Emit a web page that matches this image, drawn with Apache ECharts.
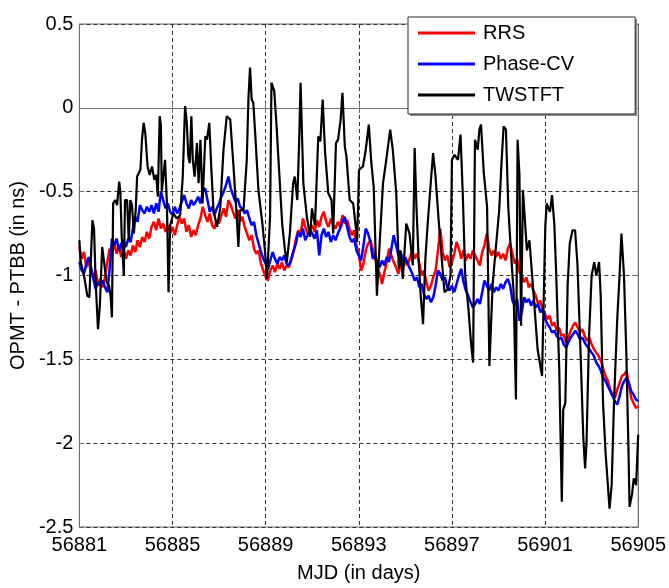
<!DOCTYPE html>
<html>
<head>
<meta charset="utf-8">
<script src="https://cdn.jsdelivr.net/npm/echarts@6/dist/echarts.min.js"></script>
<style>
html,body{margin:0;padding:0;background:#fff;}
#chart{width:669px;height:588px;}
</style>
</head>
<body>
<div id="chart"></div>
<script>
// ---- data ----
const mjdStart = 56881;
const mjdEnd = 56905;
const xTickStep = 4;
const yMin = -2.5, yMax = 0.5, yTickStep = 0.5;
const seriesNames = ['RRS', 'Phase-CV', 'TWSTFT'];
const sampleStepDays = 0.1; // RRS and Phase-CV are read every 0.1 day

const rrsOffset = [
  -0.83,-0.90,-0.86,-0.95,-0.91,-0.98,-1.01,-0.97,-1.06,-1.02,
  -1.07,-1.01,-0.92,-0.84,-0.88,-0.80,-0.87,-0.83,-0.89,-0.85,
  -0.90,-0.85,-0.88,-0.82,-0.86,-0.79,-0.83,-0.77,-0.80,-0.74,
  -0.78,-0.71,-0.68,-0.73,-0.66,-0.72,-0.69,-0.74,-0.70,-0.75,
  -0.71,-0.76,-0.70,-0.65,-0.69,-0.66,-0.74,-0.70,-0.77,-0.73,
  -0.76,-0.70,-0.66,-0.59,-0.64,-0.68,-0.63,-0.70,-0.72,-0.67,
  -0.69,-0.64,-0.60,-0.65,-0.55,-0.58,-0.62,-0.66,-0.61,-0.68,
  -0.65,-0.71,-0.75,-0.79,-0.76,-0.84,-0.87,-0.85,-0.93,-0.97,
  -1.01,-1.03,-0.97,-0.94,-0.98,-0.93,-0.96,-0.92,-0.97,-0.94,
  -0.95,-0.91,-0.86,-0.78,-0.73,-0.76,-0.66,-0.71,-0.75,-0.72,
  -0.70,-0.74,-0.67,-0.71,-0.65,-0.62,-0.68,-0.71,-0.66,-0.70,
  -0.72,-0.68,-0.71,-0.64,-0.69,-0.67,-0.72,-0.76,-0.73,-0.82,
  -0.87,-0.97,-0.93,-0.85,-0.81,-0.79,-0.84,-0.90,-0.95,-0.99,
  -1.05,-0.98,-0.92,-0.84,-0.88,-0.92,-0.95,-0.99,-0.93,-0.96,
  -0.91,-0.94,-0.89,-0.85,-0.90,-0.87,-0.93,-1.00,-0.97,-1.04,
  -1.09,-1.06,-1.01,-0.97,-0.85,-0.72,-0.86,-0.91,-0.88,-0.95,
  -0.92,-0.87,-0.80,-0.84,-0.90,-0.85,-0.91,-0.87,-0.90,-0.85,
  -0.88,-0.91,-0.94,-0.86,-0.82,-0.75,-0.84,-0.88,-0.85,-0.89,
  -0.86,-0.90,-0.87,-0.91,-0.84,-0.81,-0.87,-0.93,-0.90,-0.98,
  -1.00,-1.04,-1.01,-1.07,-1.05,-1.09,-1.12,-1.17,-1.15,-1.21,
  -1.23,-1.26,-1.24,-1.30,-1.28,-1.33,-1.31,-1.36,-1.35,-1.40,
  -1.37,-1.33,-1.30,-1.28,-1.31,-1.34,-1.32,-1.36,-1.39,-1.37,
  -1.41,-1.44,-1.46,-1.48,-1.51,-1.56,-1.60,-1.63,-1.68,-1.71,
  -1.73,-1.68,-1.64,-1.60,-1.59,-1.57,-1.65,-1.73,-1.76,-1.79,
  -1.78
];

const phaseCvOffset = [
  -0.92,-0.97,-0.99,-0.93,-0.89,-0.95,-1.02,-1.08,-1.04,-1.06,
  -1.03,-1.07,-1.10,-0.96,-0.78,-0.82,-0.78,-0.85,-0.81,-0.79,
  -0.83,-0.78,-0.80,-0.72,-0.65,-0.68,-0.58,-0.61,-0.63,-0.59,
  -0.62,-0.58,-0.63,-0.57,-0.62,-0.50,-0.55,-0.60,-0.57,-0.62,
  -0.64,-0.59,-0.63,-0.60,-0.56,-0.52,-0.57,-0.60,-0.55,-0.58,
  -0.56,-0.53,-0.57,-0.50,-0.48,-0.55,-0.62,-0.59,-0.64,-0.60,
  -0.57,-0.53,-0.50,-0.46,-0.41,-0.48,-0.52,-0.56,-0.54,-0.59,
  -0.60,-0.63,-0.61,-0.66,-0.70,-0.68,-0.76,-0.81,-0.86,-0.90,
  -0.93,-0.96,-0.91,-0.86,-0.90,-0.93,-0.89,-0.91,-0.88,-0.93,
  -0.94,-0.90,-0.85,-0.81,-0.74,-0.77,-0.72,-0.79,-0.76,-0.73,
  -0.75,-0.78,-0.73,-0.88,-0.76,-0.72,-0.77,-0.74,-0.80,-0.76,
  -0.79,-0.75,-0.72,-0.68,-0.65,-0.71,-0.77,-0.80,-0.78,-0.85,
  -0.88,-0.91,-0.82,-0.72,-0.75,-0.80,-0.90,-0.88,-0.92,-0.95,
  -0.91,-0.94,-0.89,-0.92,-0.84,-0.76,-0.82,-0.88,-0.86,-0.91,
  -0.89,-0.93,-0.96,-0.99,-1.03,-1.01,-1.07,-1.05,-1.11,-1.14,
  -1.12,-1.16,-1.13,-1.06,-0.97,-0.99,-1.03,-1.01,-1.07,-1.09,
  -1.06,-1.10,-1.05,-1.00,-0.96,-1.04,-1.09,-1.12,-1.16,-1.19,
  -1.17,-1.14,-1.17,-1.10,-1.03,-1.06,-1.09,-1.05,-1.10,-1.07,
  -1.09,-1.05,-1.08,-1.04,-1.02,-1.06,-1.15,-1.18,-1.14,-1.27,
  -1.22,-1.13,-1.16,-1.14,-1.18,-1.15,-1.19,-1.17,-1.22,-1.20,
  -1.26,-1.29,-1.31,-1.34,-1.33,-1.36,-1.38,-1.37,-1.41,-1.43,
  -1.40,-1.37,-1.35,-1.33,-1.35,-1.38,-1.37,-1.40,-1.42,-1.44,
  -1.46,-1.48,-1.52,-1.54,-1.57,-1.61,-1.63,-1.66,-1.69,-1.72,
  -1.75,-1.77,-1.72,-1.66,-1.63,-1.61,-1.64,-1.69,-1.71,-1.74,
  -1.75
];

// TWSTFT: days after MJD 56881 and offset (ns)
const twstftDay = [
  0.00,0.06,0.20,0.34,0.43,0.56,0.63,0.70,0.80,0.88,0.98,1.05,1.17,1.27,1.34,1.40,1.45,1.55,1.62,1.71,
  1.76,1.82,1.91,1.96,2.05,2.12,2.19,2.26,2.34,2.42,2.48,2.62,2.69,2.76,2.83,2.93,3.02,3.12,3.22,3.30,
  3.37,3.45,3.50,3.54,3.62,3.68,3.76,3.83,3.90,4.04,4.18,4.33,4.44,4.54,4.61,4.68,4.74,4.81,4.87,4.95,
  5.05,5.12,5.20,5.29,5.41,5.48,5.58,5.67,5.76,5.91,6.05,6.19,6.33,6.48,6.62,6.76,6.83,6.90,7.05,7.19,
  7.26,7.33,7.40,7.47,7.55,7.69,7.86,7.97,8.06,8.19,8.25,8.31,8.37,8.47,8.61,8.71,8.83,8.91,9.04,9.18,
  9.25,9.36,9.44,9.50,9.62,9.77,9.91,9.99,10.12,10.26,10.35,10.45,10.55,10.69,10.83,10.90,11.02,11.11,11.22,11.30,
  11.40,11.47,11.61,11.76,11.87,11.93,12.01,12.18,12.30,12.43,12.54,12.64,12.78,12.90,13.04,13.18,13.35,13.46,13.61,13.72,
  13.79,13.89,14.04,14.18,14.32,14.40,14.48,14.57,14.66,14.76,14.86,14.97,15.09,15.19,15.29,15.43,15.54,15.68,15.83,15.94,
  16.00,16.11,16.26,16.37,16.47,16.57,16.71,16.82,16.91,16.99,17.11,17.18,17.25,17.37,17.51,17.61,17.75,17.89,18.03,18.13,
  18.22,18.32,18.42,18.53,18.65,18.75,18.82,18.90,18.97,19.05,19.22,19.33,19.50,19.68,19.87,19.95,20.01,20.07,20.15,20.21,
  20.30,20.40,20.47,20.61,20.68,20.72,20.78,20.87,20.97,21.06,21.18,21.29,21.39,21.53,21.64,21.72,21.78,21.89,22.00,22.11,
  22.20,22.32,22.39,22.49,22.60,22.77,22.86,22.96,23.10,23.20,23.28,23.39,23.49,23.57,23.63,23.74,23.81,23.91,24.00
];
const twstftOffset = [
  -0.79,-0.92,-1.00,-1.12,-1.13,-0.67,-0.72,-1.04,-1.32,-1.18,-0.83,-0.82,-1.04,-1.06,-1.12,-1.25,-0.57,-0.55,-0.58,-0.44,
  -0.50,-0.77,-1.00,-0.55,-0.55,-0.79,-0.55,-0.58,-0.75,-0.61,-0.41,-0.37,-0.19,-0.09,-0.15,-0.35,-0.40,-0.35,-0.43,-0.40,
  -0.53,-0.05,-0.10,-0.50,-0.50,-0.31,-0.57,-1.10,-0.70,-0.63,-0.66,-0.64,-0.41,0.01,-0.08,-0.29,-0.33,-0.05,-0.31,-0.41,
  -0.21,-0.45,-0.19,-0.57,-0.17,-0.19,-0.09,-0.37,-0.61,-0.71,-0.60,-0.25,-0.05,-0.07,-0.35,-0.65,-0.83,-0.61,-0.61,-0.31,
  0.05,0.24,0.05,0.03,-0.15,-0.49,-0.69,-0.85,-1.02,-0.65,0.15,0.16,0.10,-0.11,-0.45,-0.69,-0.85,-0.92,-0.75,-0.45,
  -0.41,-0.55,-0.20,0.15,-0.45,-0.65,-0.77,-0.60,-0.70,-0.17,-0.20,0.05,-0.26,-0.51,-0.55,-0.75,-0.21,-0.19,-0.07,0.09,
  -0.23,-0.29,-0.55,-0.57,-0.71,-0.80,-0.37,-0.35,-0.25,-0.10,-0.33,-0.47,-1.12,-0.80,-0.45,-0.31,-0.13,-0.25,-0.51,-0.96,
  -0.85,-1.02,-0.69,-0.75,-0.94,-0.24,-0.60,-0.90,-1.12,-1.29,-0.90,-0.67,-0.45,-0.27,-0.40,-0.67,-0.86,-1.10,-1.08,-1.00,
  -0.31,-0.28,-0.31,-0.16,-0.53,-1.00,-1.20,-1.40,-1.52,-0.19,-0.25,-0.13,-0.10,-0.39,-0.59,-1.54,-1.05,-0.83,-0.61,-0.33,
  -0.11,-0.13,-0.59,-0.85,-1.10,-1.74,-0.19,-0.40,-1.30,-0.49,-0.85,-0.79,-1.10,-1.44,-1.60,-1.60,-0.71,-0.57,-0.60,-0.62,
  -0.52,-0.70,-0.96,-1.56,-2.06,-2.35,-1.80,-1.76,-1.06,-0.81,-0.73,-0.73,-0.93,-1.48,-1.96,-2.15,-2.00,-1.36,-1.00,-0.92,
  -1.00,-0.92,-1.12,-1.76,-2.06,-2.39,-2.25,-1.76,-1.26,-1.00,-0.75,-1.00,-1.46,-1.96,-2.38,-2.30,-2.21,-2.25,-1.95
];

// ---- build series data ----
const rrsData = rrsOffset.map((v, i) => [mjdStart + Math.round(i * sampleStepDays * 100) / 100, v]);
const phaseData = phaseCvOffset.map((v, i) => [mjdStart + Math.round(i * sampleStepDays * 100) / 100, v]);
const twstftData = twstftDay.map((d, i) => [mjdStart + d, twstftOffset[i]]);

const FONT = '"Liberation Sans", Arial, Helvetica, sans-serif';
const BOX = '#6e6e6e';
const GRIDC = '#333333';

const chart = echarts.init(document.getElementById('chart'), null, {renderer: 'canvas'});
chart.setOption({
  animation: false,
  backgroundColor: '#ffffff',
  textStyle: {fontFamily: FONT},
  grid: {left: 78, right: 30, top: 24, bottom: 60, show: true, borderColor: BOX, borderWidth: 1, backgroundColor: 'transparent'},
  graphic: [{
    // drop shadow behind the legend box
    type: 'rect', z: 3, silent: true,
    shape: {x: 410, y: 19, width: 227, height: 97},
    style: {fill: '#8c8c8c'}
  }],
  legend: {
    orient: 'vertical', left: 408, top: 17, z: 5,
    data: seriesNames,
    icon: 'rect', itemWidth: 57, itemHeight: 3, itemGap: 9,
    padding: [5, 61, 8, 10],
    backgroundColor: '#ffffff', borderColor: '#2a2a2a', borderWidth: 1,
    textStyle: {fontSize: 20, color: '#000', lineHeight: 22, fontFamily: FONT, padding: [0, 0, 0, 3]}
  },
  xAxis: [{
    type: 'value', min: mjdStart, max: mjdEnd, interval: xTickStep,
    name: 'MJD (in days)', nameLocation: 'middle', nameGap: 36,
    nameTextStyle: {fontSize: 20, color: '#000', fontFamily: FONT},
    axisLine: {show: true, lineStyle: {color: BOX, width: 1}},
    axisTick: {show: true, inside: true, length: 5, lineStyle: {color: BOX}},
    axisLabel: {fontSize: 20, color: '#000', margin: 8, fontFamily: FONT, formatter: v => String(v)},
    splitLine: {show: true, lineStyle: {color: GRIDC, type: [4, 3], width: 1}}
  }, {
    type: 'value', position: 'top', min: mjdStart, max: mjdEnd, interval: xTickStep,
    axisLine: {show: true, lineStyle: {color: BOX, width: 1}},
    axisTick: {show: true, inside: true, length: 5, lineStyle: {color: BOX}},
    axisLabel: {show: false}, splitLine: {show: false}
  }],
  yAxis: [{
    type: 'value', min: yMin, max: yMax, interval: yTickStep,
    name: 'OPMT - PTBB (in ns)', nameLocation: 'middle', nameGap: 50,
    nameTextStyle: {fontSize: 20, color: '#000', fontFamily: FONT},
    axisLine: {show: true, lineStyle: {color: BOX, width: 1}},
    axisTick: {show: true, inside: true, length: 5, lineStyle: {color: BOX}},
    axisLabel: {fontSize: 20, color: '#000', margin: 6, fontFamily: FONT, formatter: v => String(v)},
    splitLine: {show: true, lineStyle: {color: GRIDC, type: [4, 3], width: 1}}
  }, {
    type: 'value', position: 'right', min: yMin, max: yMax, interval: yTickStep,
    axisLine: {show: true, lineStyle: {color: BOX, width: 1}},
    axisTick: {show: true, inside: true, length: 5, lineStyle: {color: BOX}},
    axisLabel: {show: false}, splitLine: {show: false}
  }],
  series: [
    {name: seriesNames[0], type: 'line', data: rrsData, showSymbol: false, symbol: 'none',
     color: '#ff0000', lineStyle: {color: '#ff0000', width: 2.5}, xAxisIndex: 0, yAxisIndex: 0},
    {name: seriesNames[1], type: 'line', data: phaseData, showSymbol: false, symbol: 'none',
     color: '#0000ff', lineStyle: {color: '#0000ff', width: 2.5}, xAxisIndex: 0, yAxisIndex: 0},
    {name: seriesNames[2], type: 'line', data: twstftData, showSymbol: false, symbol: 'none',
     color: '#000000', lineStyle: {color: '#000000', width: 2.2}, xAxisIndex: 0, yAxisIndex: 0}
  ]
});
</script>
</body>
</html>
